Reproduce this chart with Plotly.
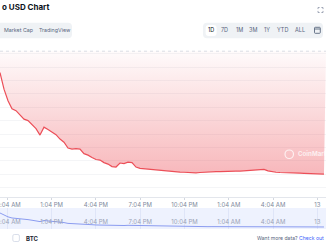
import plotly.graph_objects as go
import pandas as pd

W, H = 326, 245

# ---------------- data ----------------
price = [
    0.08960, 0.08836, 0.08750, 0.08690, 0.08675, 0.08642, 0.08612, 0.08601,
    0.08567, 0.08541, 0.08493, 0.08552, 0.08534, 0.08517, 0.08496, 0.08463,
    0.08440, 0.08396, 0.08388, 0.08392, 0.08388, 0.08354, 0.08343, 0.08325,
    0.08310, 0.08306, 0.08287, 0.08276, 0.08257, 0.08254, 0.08284, 0.08280,
    0.08291, 0.08287, 0.08254, 0.08244, 0.08241, 0.08239, 0.08235, 0.08231,
    0.08228, 0.08224, 0.08222, 0.08220, 0.08219, 0.08216, 0.08215, 0.08213,
    0.08212, 0.08211, 0.08213, 0.08216, 0.08218, 0.08219, 0.08220, 0.08220,
    0.08222, 0.08222, 0.08224, 0.08224, 0.08224, 0.08226, 0.08228, 0.08230,
    0.08233, 0.08237, 0.08236, 0.08225, 0.08218, 0.08215, 0.08213, 0.08213,
    0.08211, 0.08210, 0.08209, 0.08208, 0.08207, 0.08205, 0.08204, 0.08203,
    0.08202, 0.08201,
]
start_time = "2024-03-12 09:34:20"
step_seconds = 975
times = pd.date_range(start=start_time, periods=len(price), freq=f"{step_seconds}s")

open_price = 0.09121
x_range = ["2024-03-12 09:34:20", "2024-03-13 07:38:50"]
y_range = [0.08030, 0.09125]
nav_y_range = [0.08091, 0.09232]

tick_vals = ["2024-03-12 10:04", "2024-03-12 13:04", "2024-03-12 16:04",
             "2024-03-12 19:04", "2024-03-12 22:04", "2024-03-13 01:04",
             "2024-03-13 04:04", "2024-03-13 07:04"]
tick_text = ["10:04 AM", "1:04 PM", "4:04 PM", "7:04 PM", "10:04 PM",
             "1:04 AM", "4:04 AM", "13"]

title_text = "o USD Chart"
view_tabs = ["Market Cap", "TradingView"]
range_buttons = ["1D", "7D", "1M", "3M", "1Y", "YTD", "ALL"]
compare_label = "BTC"
more_text = "Want more data?"
more_link = "Check out"
watermark = "CoinMarketCap"

# ---------------- helpers (layout positions in pixels) ----------------
def px(x):
    return x / W

def py(y):
    return 1 - y / H

def rrect(x0, y0, x1, y1, r):
    return (
        f"M {px(x0 + r)} {py(y0)} L {px(x1 - r)} {py(y0)} "
        f"Q {px(x1)} {py(y0)} {px(x1)} {py(y0 + r)} "
        f"L {px(x1)} {py(y1 - r)} Q {px(x1)} {py(y1)} {px(x1 - r)} {py(y1)} "
        f"L {px(x0 + r)} {py(y1)} Q {px(x0)} {py(y1)} {px(x0)} {py(y1 - r)} "
        f"L {px(x0)} {py(y0 + r)} Q {px(x0)} {py(y0)} {px(x0 + r)} {py(y0)} Z"
    )

FONT = "Inter"
GRAY = "#58667e"

fig = go.Figure()

# baseline (opening price) dotted line
fig.add_trace(go.Scatter(
    x=[times[0], x_range[1]], y=[open_price, open_price], mode="lines",
    line=dict(color="#cfd4dd", width=1, dash="dot"), hoverinfo="skip",
    showlegend=False))

# price line with gradient fill to baseline
fig.add_trace(go.Scatter(
    x=times, y=price, mode="lines",
    line=dict(color="#ec4f58", width=1.2),
    fill="tonexty",
    fillgradient=dict(type="vertical",
                      colorscale=[[0, "rgba(234,57,67,0.36)"],
                                  [1, "rgba(234,57,67,0.02)"]],
                      start=min(price), stop=open_price),
    hoverinfo="skip", showlegend=False))

# navigator line
fig.add_trace(go.Scatter(
    x=times, y=price, mode="lines", xaxis="x2", yaxis="y2",
    line=dict(color="#8b9cf0", width=1), hoverinfo="skip", showlegend=False))

shapes = []
shapes.append(dict(type="rect", xref="paper", yref="paper", x0=0, x1=1,
                   y0=py(229), y1=py(208), fillcolor="#eef2fe",
                   line=dict(width=0), layer="below"))
shapes.append(dict(type="path", xref="paper", yref="paper",
                   path=rrect(-8, 22.7, 72, 38.3, 4), fillcolor="#eff2f5",
                   line=dict(width=0), layer="below"))
shapes.append(dict(type="path", xref="paper", yref="paper",
                   path=rrect(203, 22.7, 323, 38.3, 4), fillcolor="#eff2f5",
                   line=dict(width=0), layer="below"))
shapes.append(dict(type="path", xref="paper", yref="paper",
                   path=rrect(205.6, 25, 216.6, 36, 3), fillcolor="#ffffff",
                   line=dict(width=0), layer="below"))
# calendar icon
shapes.append(dict(type="path", xref="paper", yref="paper",
                   path=rrect(314.5, 27.3, 320.3, 33.3, 0.8), fillcolor="rgba(0,0,0,0)",
                   line=dict(color=GRAY, width=0.9)))
shapes.append(dict(type="line", xref="paper", yref="paper",
                   x0=px(314.5), x1=px(320.3), y0=py(29), y1=py(29),
                   line=dict(color=GRAY, width=0.9)))
# fullscreen icon corners
for (cx, cy, dx, dy) in [(318, 7.5, 1, 1), (323, 7.5, -1, 1), (318, 12.5, 1, -1), (323, 12.5, -1, -1)]:
    shapes.append(dict(type="path", xref="paper", yref="paper",
                       path=f"M {px(cx)} {py(cy + 1.6 * dy)} L {px(cx)} {py(cy)} L {px(cx + 1.6 * dx)} {py(cy)}",
                       line=dict(color="#8a93a6", width=0.8)))
# checkbox
shapes.append(dict(type="path", xref="paper", yref="paper",
                   path=rrect(12.8, 234.5, 19.4, 241.5, 1.5), fillcolor="#ffffff",
                   line=dict(color="#cfd6e4", width=0.8)))
# watermark logo
shapes.append(dict(type="circle", xref="paper", yref="paper",
                   x0=px(285), x1=px(293.5), y0=py(158.5), y1=py(150),
                   line=dict(color="rgba(255,255,255,0.75)", width=1.2)))

annotations = []
annotations.append(dict(text=f"<b>{title_text}</b>", x=px(-0.5), y=py(7), xref="paper", yref="paper",
                        xanchor="left", yanchor="middle", showarrow=False,
                        font=dict(family=FONT, size=8, color="#0d1421")))
for label, lx in zip(view_tabs, [1.5, 36.5]):
    annotations.append(dict(text=label, x=px(lx), y=py(30.5), xref="paper", yref="paper",
                            xanchor="left", yanchor="middle", showarrow=False,
                            font=dict(family=FONT, size=5.3, color=GRAY)))
for label, cx in zip(range_buttons, [211.1, 224.7, 239, 253, 267, 282.3, 300.3]):
    annotations.append(dict(text=label, x=px(cx), y=py(30.5), xref="paper", yref="paper",
                            xanchor="center", yanchor="middle", showarrow=False,
                            font=dict(family=FONT, size=5.5,
                                      color="#0d1421" if label == "1D" else GRAY)))
annotations.append(dict(text=f"<b>{compare_label}</b>", x=px(24), y=py(238.3), xref="paper", yref="paper",
                        xanchor="left", yanchor="middle", showarrow=False,
                        font=dict(family=FONT, size=6, color="#222531")))
annotations.append(dict(text=f"{more_text} <span style='color:#3861fb'>{more_link}</span>",
                        x=px(326), y=py(238.3), xref="paper", yref="paper",
                        xanchor="right", yanchor="middle", showarrow=False,
                        font=dict(family=FONT, size=5.1, color=GRAY)))
annotations.append(dict(text=f"<b>{watermark}</b>", x=px(296), y=py(154.3), xref="paper", yref="paper",
                        xanchor="left", yanchor="middle", showarrow=False,
                        font=dict(family=FONT, size=6.2, color="rgba(255,255,255,0.75)")))

fig.update_layout(
    width=W, height=H,
    margin=dict(l=0, r=0, t=0, b=0, autoexpand=False),
    paper_bgcolor="#ffffff", plot_bgcolor="rgba(0,0,0,0)",
    showlegend=False,
    xaxis=dict(domain=[0, 1], range=x_range, anchor="y", automargin=False,
               tickmode="array", tickvals=tick_vals, ticktext=tick_text,
               showgrid=False, zeroline=False, showline=True,
               linecolor="#e3e6ec", linewidth=1,
               ticks="outside", ticklen=2, tickcolor="#d3d7df",
               ticklabeloverflow="allow",
               tickfont=dict(family=FONT, size=6, color="#808a9d")),
    yaxis=dict(domain=[py(197), py(50.5)], range=y_range, automargin=False,
               showticklabels=False, zeroline=False, showline=False,
               tick0=0.081, dtick=0.001, showgrid=True,
               gridcolor="#f4f5f7", gridwidth=1),
    xaxis2=dict(domain=[0, 1], range=x_range, anchor="y2", automargin=False,
                tickmode="array", tickvals=tick_vals, ticktext=tick_text,
                showgrid=True, gridcolor="#dfe5f8", zeroline=False,
                showline=False, ticks="", ticklabelposition="inside",
                ticklabelstandoff=1, ticklabeloverflow="allow",
                tickfont=dict(family=FONT, size=6, color="#9aa2b6")),
    yaxis2=dict(domain=[py(229), py(208)], range=nav_y_range, visible=False,
                automargin=False),
    shapes=shapes,
    annotations=annotations,
)

fig.write_html("out.html", config={"displayModeBar": False})
